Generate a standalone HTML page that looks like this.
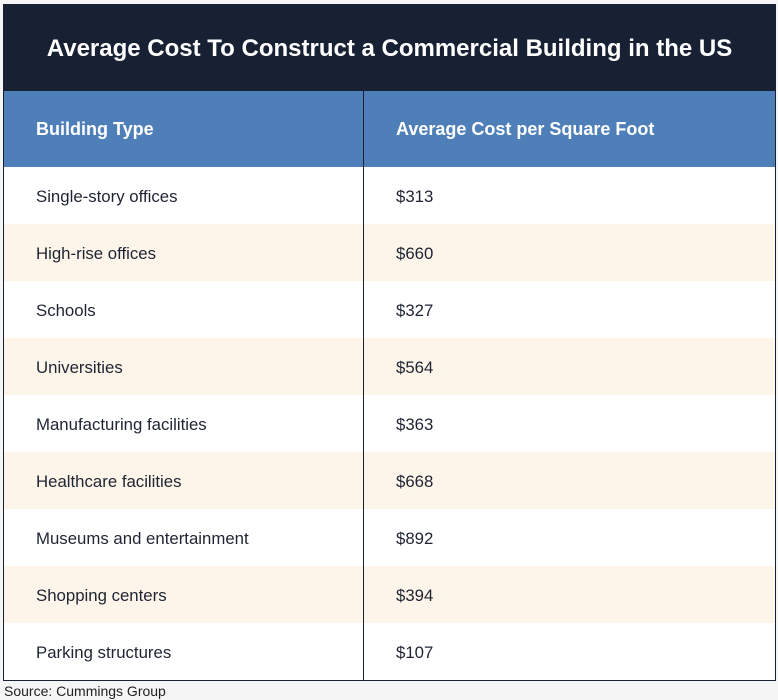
<!DOCTYPE html>
<html><head><meta charset="utf-8"><style>
body{margin:0;width:778px;height:700px;background:#f5f5f5;font-family:"Liberation Sans",sans-serif;position:relative;overflow:hidden}
#wrap{position:absolute;left:3px;top:4px;width:771px;height:675px;border:1px solid #182033;background:#fff;overflow:hidden}
#title{height:86px;background:#182033;color:#fff;font-weight:bold;font-size:24px;text-align:center;line-height:88px}
table{border-collapse:collapse;width:100%;table-layout:fixed}
th,td{text-align:left;padding:0 0 0 32px;font-size:16.8px}
th{background:#4f7fb8;color:#fff;height:76px;font-weight:bold;font-size:18px}
td{height:55px;color:#1e2433;padding-top:2px}
tr.alt td{background:#fdf5e9}
th:first-child,td:first-child{border-right:1px solid #182033;width:327px}
#src{position:absolute;left:4px;top:683px;font-size:14px;color:#222}
</style></head><body>
<div id="wrap">
<div id="title">Average Cost To Construct a Commercial Building in the US</div>
<table>
<tr><th>Building Type</th><th>Average Cost per Square Foot</th></tr>
<tr><td>Single-story offices</td><td>$313</td></tr>
<tr class="alt"><td>High-rise offices</td><td>$660</td></tr>
<tr><td>Schools</td><td>$327</td></tr>
<tr class="alt"><td>Universities</td><td>$564</td></tr>
<tr><td>Manufacturing facilities</td><td>$363</td></tr>
<tr class="alt"><td>Healthcare facilities</td><td>$668</td></tr>
<tr><td>Museums and entertainment</td><td>$892</td></tr>
<tr class="alt"><td>Shopping centers</td><td>$394</td></tr>
<tr><td>Parking structures</td><td>$107</td></tr>
</table>
</div>
<div id="src">Source: Cummings Group</div>
</body></html>
